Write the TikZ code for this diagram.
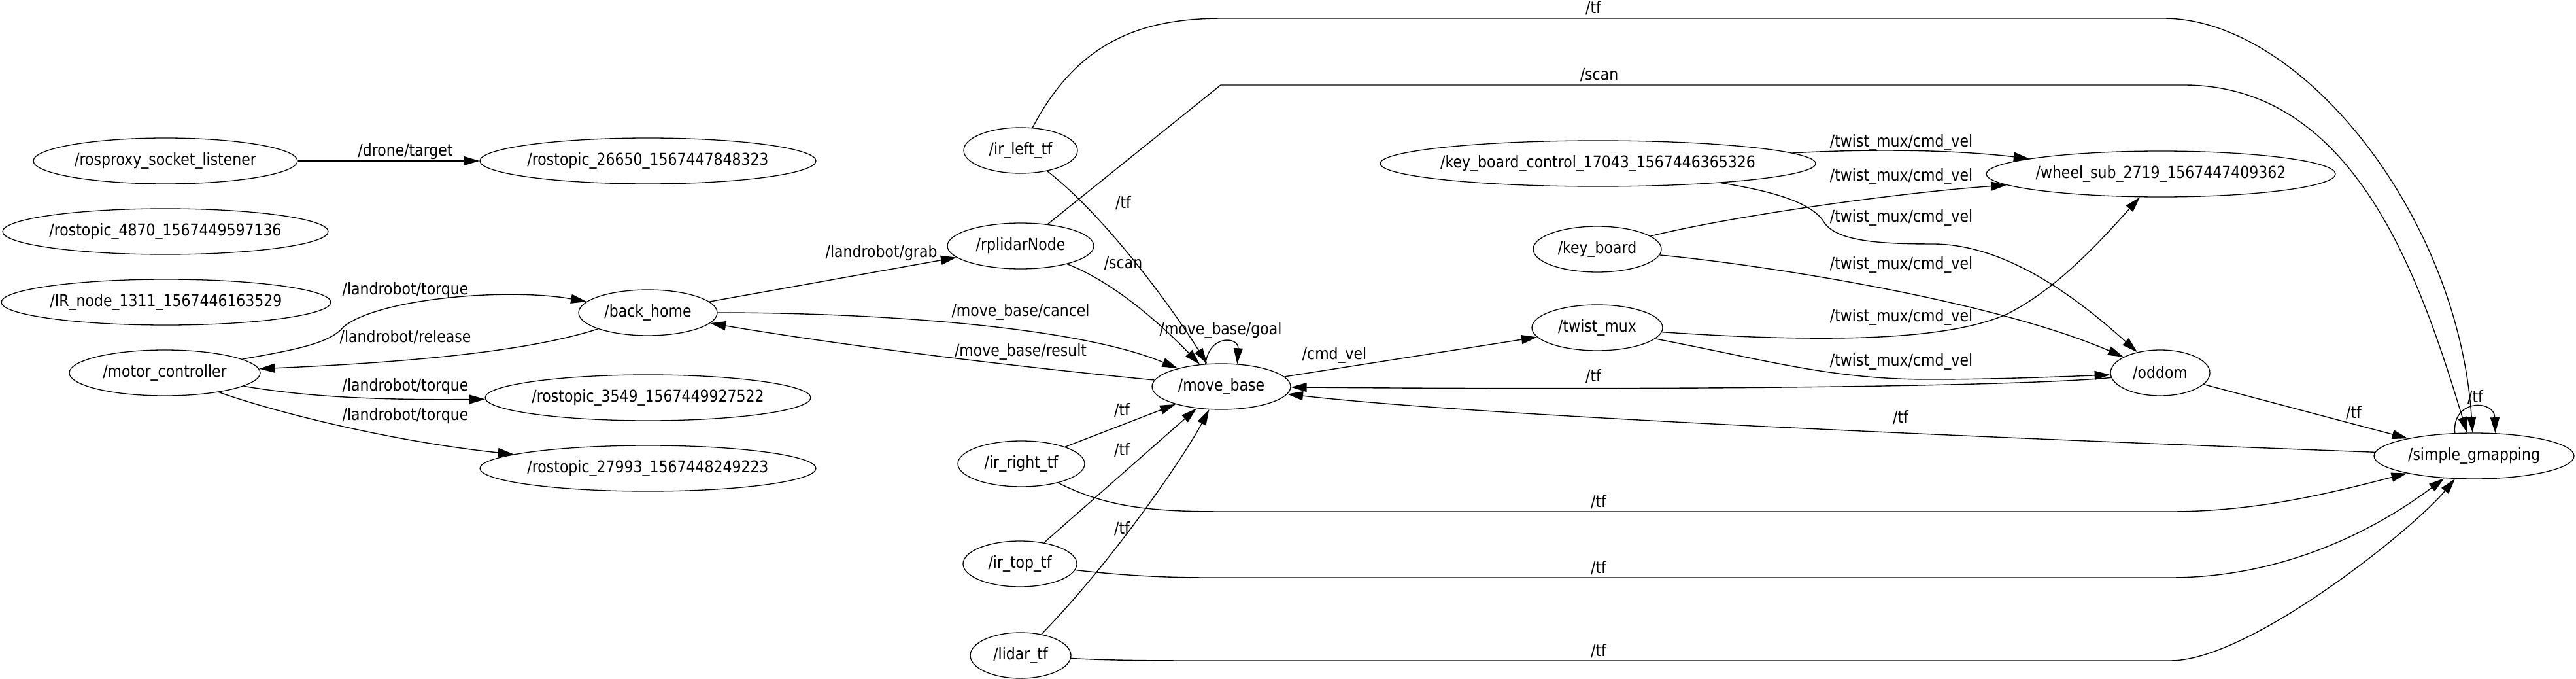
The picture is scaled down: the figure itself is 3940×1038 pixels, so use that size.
\documentclass[tikz,border=0pt]{standalone}
\usepackage{fontspec}
\setmainfont{DejaVu Sans}[FakeStretch=0.88]
\usetikzlibrary{shapes.geometric,arrows.meta}
\newcommand{\rosname}[1]{\makebox[0pt]{#1}}

\begin{document}
\begin{tikzpicture}[x=0.5pt, y=-0.5pt, font=\fontsize{12.5}{14}\selectfont,
    rosnode/.style ={ellipse, draw, line width=0.65pt, inner sep=0pt, minimum height=35pt},
    topic/.style ={-{Triangle[length=12pt,width=7pt]}, line width=0.7pt},
    tname/.style ={inner sep=0pt}]
   \useasboundingbox (0,0) rectangle (3940,1038);
   \node[rosnode, minimum width=202pt] (rpx) at (253,246) {\rosname{/rosproxy\_socket\_listener}};
   \node[rosnode, minimum width=257pt] (t26650) at (991,246) {\rosname{/rostopic\_26650\_1567447848323}};
   \node[rosnode, minimum width=249pt] (t4870) at (253,354) {\rosname{/rostopic\_4870\_1567449597136}};
   \node[rosnode, minimum width=252pt] (irn) at (254,462) {\rosname{/IR\_node\_1311\_1567446163529}};
   \node[rosnode, minimum width=146pt] (mc) at (252,570) {\rosname{/motor\_controller}};
   \node[rosnode, minimum width=106pt] (bh) at (991,478) {\rosname{/back\_home}};
   \node[rosnode, minimum width=249pt] (t3549) at (991,608) {\rosname{/rostopic\_3549\_1567449927522}};
   \node[rosnode, minimum width=257pt] (t27993) at (991,716) {\rosname{/rostopic\_27993\_1567448249223}};
   \node[rosnode, minimum width=87pt] (il) at (1561,230) {\rosname{/ir\_left\_tf}};
   \node[rosnode, minimum width=112pt] (rp) at (1561,376) {\rosname{/rplidarNode}};
   \node[rosnode, minimum width=97pt] (ir) at (1562,709) {\rosname{/ir\_right\_tf}};
   \node[rosnode, minimum width=87pt] (it) at (1560,862) {\rosname{/ir\_top\_tf}};
   \node[rosnode, minimum width=77pt] (lt) at (1561,1002) {\rosname{/lidar\_tf}};
   \node[rosnode, minimum width=106pt] (mb) at (1868,591) {\rosname{/move\_base}};
   \node[rosnode, minimum width=333pt] (kbc) at (2444,250) {\rosname{/key\_board\_control\_17043\_1567446365326}};
   \node[rosnode, minimum width=98pt] (kb) at (2443,381) {\rosname{/key\_board}};
   \node[rosnode, minimum width=100pt] (tm) at (2443,501) {\rosname{/twist\_mux}};
   \node[rosnode, minimum width=267pt] (ws) at (3305,266) {\rosname{/wheel\_sub\_2719\_1567447409362}};
   \node[rosnode, minimum width=76pt] (od) at (3304,570) {\rosname{/oddom}};
   \node[rosnode, minimum width=153pt] (sg) at (3784,697) {\rosname{/simple\_gmapping}};

   % left part
   \draw[topic] (rpx) -- (t26650) node[tname] at (620,232) {/drone/target};
   \draw[topic] (mc) .. controls (450,535) and (505,525) .. (525,500) .. controls (580,455) and (780,440) .. (bh) node[tname] at (620,444) {/landrobot/torque};
   \draw[topic] (bh) .. controls (800,540) and (600,555) .. (mc) node[tname] at (620,515) {/landrobot/release};
   \draw[topic] (mc) .. controls (460,605) and (560,612) .. (t3549) node[tname] at (620,591) {/landrobot/torque};
   \draw[topic] (mc) .. controls (420,630) and (600,675) .. (t27993) node[tname] at (620,636) {/landrobot/torque};
   \draw[topic] (bh) -- (rp) node[tname] at (1348,387) {/landrobot/grab};
   \draw[topic] (bh) .. controls (1350,478) and (1650,500) .. (mb) node[tname] at (1561,477) {/move\_base/cancel};
   \draw[topic] (mb) .. controls (1550,560) and (1300,530) .. (bh) node[tname] at (1561,538) {/move\_base/result};

   % into move_base
   \draw[topic] (il) .. controls (1690,330) and (1791,468) .. (mb) node[tname] at (1718,310) {/tf};
   \draw[topic] (rp) .. controls (1700,430) and (1769,489) .. (mb) node[tname] at (1718,403) {/scan};
   \draw[topic] (mb.125) .. controls (1850,510) and (1895,515) .. (mb.55) node[tname] at (1867,505) {/move\_base/goal};
   \draw[topic] (ir) -- (mb) node[tname] at (1716,627) {/tf};
   \draw[topic] (it) -- (mb) node[tname] at (1716,688) {/tf};
   \draw[topic] (lt) .. controls (1700,860) and (1810,700) .. (mb) node[tname] at (1716,808) {/tf};
   \draw[topic] (mb) -- (tm) node[tname] at (2041,543) {/cmd\_vel};

   % long ones to simple_gmapping
   \draw[topic] (il) .. controls (1650,60) and (1750,28) .. (1870,28) -- (3309,28) .. controls (3520,28) and (3760,330) .. (sg) node[tname] at (2437,12) {/tf};
   \draw[topic] (rp) -- (1867,130) -- (3340,130) .. controls (3600,130) and (3700,420) .. (sg) node[tname] at (2446,115) {/scan};
   \draw[topic] (ir) .. controls (1700,780) and (1780,782) .. (1880,782) -- (3320,782) .. controls (3450,782) and (3560,755) .. (sg) node[tname] at (2445,767) {/tf};
   \draw[topic] (it) .. controls (1720,880) and (1780,883) .. (1850,883) -- (3320,883) .. controls (3480,883) and (3620,820) .. (sg) node[tname] at (2445,868) {/tf};
   \draw[topic] (lt) .. controls (1700,1010) and (1780,1010) .. (1850,1010) -- (3320,1010) .. controls (3440,1010) and (3690,810) .. (sg) node[tname] at (2445,995) {/tf};

   % twist_mux/cmd_vel
   \draw[topic] (kbc) .. controls (2850,228) and (2980,228) .. (ws) node[tname] at (2908,218) {/twist\_mux/cmd\_vel};
   \draw[topic] (kb) .. controls (2650,330) and (2900,295) .. (ws) node[tname] at (2908,270) {/twist\_mux/cmd\_vel};
   \draw[topic] (kbc) .. controls (2730,295) and (2775,315) .. (2790,340) .. controls (2810,370) and (2880,373) .. (2960,373) .. controls (3060,375) and (3160,440) .. (od) node[tname] at (2908,333) {/twist\_mux/cmd\_vel};
   \draw[topic] (kb) .. controls (2700,405) and (3050,460) .. (od) node[tname] at (2908,405) {/twist\_mux/cmd\_vel};
   \draw[topic] (tm) .. controls (2800,525) and (2980,520) .. (3070,480) .. controls (3150,440) and (3220,360) .. (ws) node[tname] at (2908,485) {/twist\_mux/cmd\_vel};
   \draw[topic] (tm) .. controls (2700,550) and (2800,580) .. (2950,580) .. controls (3050,580) and (3150,576) .. (od) node[tname] at (2908,553) {/twist\_mux/cmd\_vel};

   % tf around oddom and simple_gmapping
   \draw[topic] (od) .. controls (3100,590) and (2600,597) .. (mb) node[tname] at (2437,575) {/tf};
   \draw[topic] (od) -- (sg) node[tname] at (3600,631) {/tf};
   \draw[topic] (sg) .. controls (3200,675) and (2300,640) .. (mb) node[tname] at (2907,638) {/tf};
   \draw[topic] (sg.130) .. controls (3750,610) and (3815,610) .. (sg.47) node[tname] at (3786,607) {/tf};
 \end{tikzpicture}
\end{document}
